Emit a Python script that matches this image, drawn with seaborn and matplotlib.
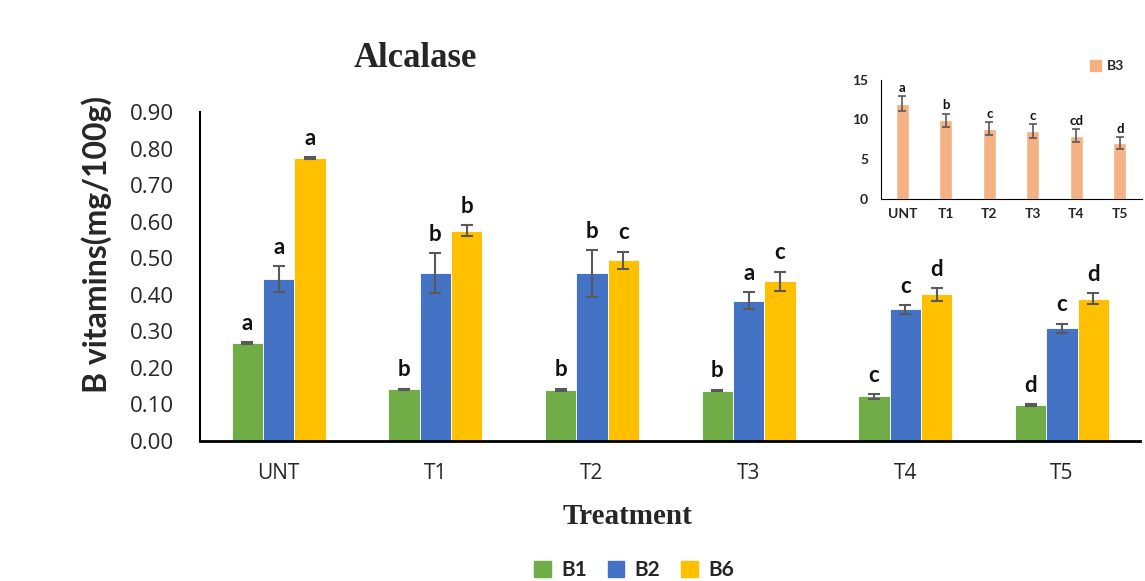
import pandas as pd
import matplotlib
matplotlib.use("Agg")
import matplotlib.pyplot as plt
import seaborn as sns

# data
treatments = ["UNT", "T1", "T2", "T3", "T4", "T5"]
vitamins = ["B1", "B2", "B6"]
b1 = [0.268, 0.141, 0.140, 0.138, 0.122, 0.099]
b1_err = [0.003, 0.002, 0.003, 0.002, 0.007, 0.002]
b2 = [0.443, 0.459, 0.459, 0.384, 0.360, 0.308]
b2_err = [0.036, 0.055, 0.064, 0.024, 0.012, 0.013]
b6 = [0.774, 0.576, 0.494, 0.437, 0.401, 0.389]
b6_err = [0.003, 0.015, 0.024, 0.026, 0.018, 0.015]
b1_letters = ["a", "b", "b", "b", "c", "d"]
b2_letters = ["a", "b", "b", "a", "c", "c"]
b6_letters = ["a", "b", "c", "c", "d", "d"]

b3 = [11.98, 9.87, 8.83, 8.53, 7.94, 7.02]
b3_err = [0.9, 0.85, 0.8, 0.85, 0.8, 0.75]
b3_letters = ["a", "b", "c", "c", "cd", "d"]

colors = {"B1": "#70AD47", "B2": "#4472C4", "B6": "#FFC000"}
b3_color = "#F4B183"
err_color = "#595959"

sns.set_style("white")
plt.rcParams["font.family"] = ["Lato", "DejaVu Sans"]

df = pd.DataFrame({
    "Treatment": treatments * 3,
    "Vitamin": ["B1"] * 6 + ["B2"] * 6 + ["B6"] * 6,
    "Value": b1 + b2 + b6,
})
errs = [b1_err, b2_err, b6_err]
letters = [b1_letters, b2_letters, b6_letters]

fig = plt.figure(figsize=(11.45, 5.81), dpi=100)
ax = fig.add_axes([0.175, 0.241, 0.821, 0.566])

sns.barplot(data=df, x="Treatment", y="Value", hue="Vitamin", order=treatments,
            hue_order=vitamins, palette=colors, errorbar=None, width=0.6,
            saturation=1, edgecolor="white", linewidth=0.6, legend=False, ax=ax)

for cont, err, lab in zip(ax.containers, errs, letters):
    for bar, e, t in zip(cont, err, lab):
        x = bar.get_x() + bar.get_width() / 2
        h = bar.get_height()
        ax.errorbar(x, h, yerr=e, color=err_color, capsize=4.5, elinewidth=1.5,
                    capthick=1.5, fmt="none", zorder=3)
        ax.annotate(t, (x, h + e), xytext=(0, 6), textcoords="offset points",
                    ha="center", va="bottom", fontsize=16, fontweight="bold",
                    color="#111111")

ax.set_ylim(0, 0.9)
ax.set_xlim(-0.5, 5.5)
ax.set_yticks([i / 10 for i in range(10)])
ax.set_yticklabels([f"{i / 10:.2f}" for i in range(10)], fontsize=16,
                   family="Open Sans")
ax.set_xticks(range(6))
ax.set_xticklabels(treatments, fontsize=15, family="Open Sans")
ax.tick_params(axis="y", length=0, pad=19)
ax.tick_params(axis="x", length=0, pad=16)
ax.set_xlabel("Treatment", fontsize=21, fontweight="bold", family="Liberation Serif")
ax.xaxis.set_label_coords(0.454, -0.19)
ax.set_ylabel("B vitamins(mg/100g)", fontsize=23, fontweight="bold")
ax.yaxis.set_label_coords(-0.094, 0.596)
sns.despine(ax=ax)
ax.spines["left"].set_linewidth(1.5)
ax.spines["bottom"].set_linewidth(2)
ax.spines["left"].set_color("black")
ax.spines["bottom"].set_color("black")

fig.text(0.3625, 1 - 67 / 581, "Alcalase", fontsize=25, fontweight="bold",
         family="Liberation Serif", ha="center", va="baseline")

handles = [plt.Rectangle((0, 0), 1, 1, color=colors[v]) for v in vitamins]
fig.legend(handles, vitamins, loc="center", bbox_to_anchor=(634 / 1145, 1 - 570 / 581),
           ncol=3, frameon=False, prop={"weight": "bold", "size": 15},
           handlelength=0.8, handleheight=0.8, handletextpad=0.5, columnspacing=1.0,
           borderpad=0)

# inset with B3
ins = fig.add_axes([0.769, 0.658, 0.228, 0.205])
b3_df = pd.DataFrame({"Treatment": treatments, "Value": b3})
sns.barplot(data=b3_df, x="Treatment", y="Value", order=treatments, color=b3_color,
            saturation=1, errorbar=None, width=0.3, ax=ins)
for bar, e, t in zip(ins.containers[0], b3_err, b3_letters):
    x = bar.get_x() + bar.get_width() / 2
    h = bar.get_height()
    ins.errorbar(x, h, yerr=e, color=err_color, capsize=3, elinewidth=1.2,
                 capthick=1.2, fmt="none", zorder=3)
    ins.annotate(t, (x, h + e), xytext=(0, 1.5), textcoords="offset points",
                 ha="center", va="bottom", fontsize=9.5, fontweight="bold",
                 color="#111111")
ins.set_ylim(0, 15)
ins.set_xlim(-0.5, 5.5)
ins.set_yticks([0, 5, 10, 15])
ins.set_yticklabels(["0", "5", "10", "15"], fontsize=10, fontweight="bold")
ins.set_xticks(range(6))
ins.set_xticklabels(treatments, fontsize=10, fontweight="bold")
ins.tick_params(axis="y", length=0, pad=9)
ins.tick_params(axis="x", length=0, pad=7)
ins.set_xlabel("")
ins.set_ylabel("")
ins.patch.set_alpha(0)
sns.despine(ax=ins)
ins.spines["left"].set_color("black")
ins.spines["bottom"].set_color("black")
ins.legend([plt.Rectangle((0, 0), 1, 1, color=b3_color)], ["B3"], loc="center left",
           bbox_to_anchor=(1090 / 1145, 1 - 66 / 581), bbox_transform=fig.transFigure,
           frameon=False, prop={"weight": "bold", "size": 10}, handlelength=0.8,
           handleheight=0.8, handletextpad=0.4, borderpad=0, borderaxespad=0)

fig.savefig("out.png", dpi=100)
